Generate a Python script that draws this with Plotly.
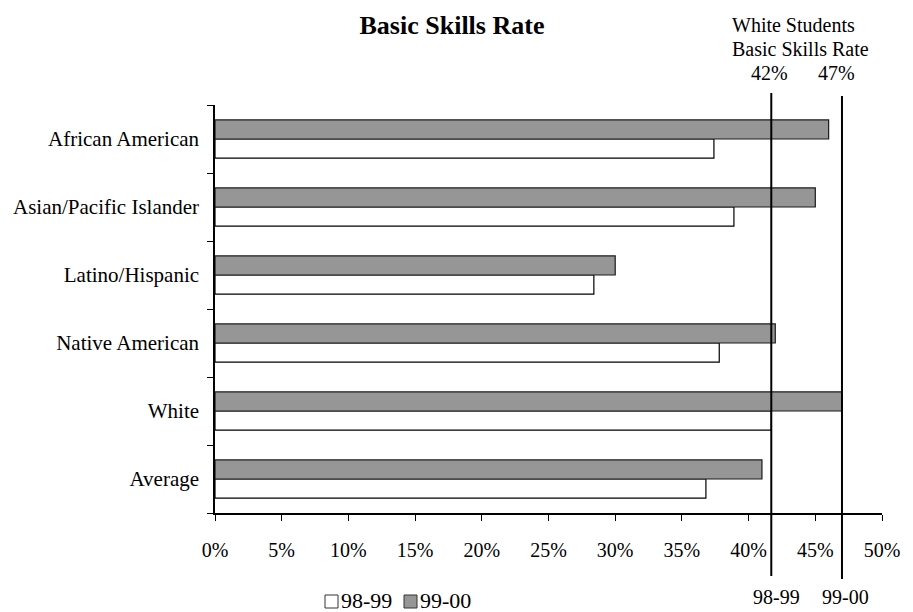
import plotly.graph_objects as go

# Basic skills rate by student group, two school years (percent)
categories = ["African American", "Asian/Pacific Islander", "Latino/Hispanic",
              "Native American", "White", "Average"]
series_names = ["98-99", "99-00"]
rate_9899 = [37.4, 38.9, 28.4, 37.8, 41.7, 36.8]
rate_9900 = [46.0, 45.0, 30.0, 42.0, 47.0, 41.0]
x_ticks = [0, 5, 10, 15, 20, 25, 30, 35, 40, 45, 50]
x_tick_labels = [f"{v}%" for v in x_ticks]

white_9899 = rate_9899[categories.index("White")]
white_9900 = rate_9900[categories.index("White")]

FONT = "Liberation Serif, Times New Roman, serif"
FILLS = ["white", "#969696"]
EDGES = ["black", "#1a1a1a"]

fig = go.Figure()
for name, vals, fill, edge in zip(series_names, [rate_9899, rate_9900], FILLS, EDGES):
    fig.add_bar(
        y=categories, x=vals, orientation="h", name=name,
        marker=dict(color=fill, line=dict(color=edge, width=1.2)),
    )

# Plot-area geometry (pixels) used to place the reference lines and labels
LEFT, RIGHT, TOP, BOTTOM = 215, 882, 105, 513
W, H = RIGHT - LEFT, BOTTOM - TOP


def px_x(px):
    return (px - LEFT) / W


def px_y(px):
    return (BOTTOM - px) / H


shapes = []
# Reference lines at the White students' rates
for val, y_top, y_bot in [(white_9899, 93, 576), (white_9900, 96, 579)]:
    shapes.append(dict(type="line", xref="x", yref="paper",
                       x0=val, x1=val, y0=px_y(y_bot), y1=px_y(y_top),
                       line=dict(color="black", width=2)))

annotations = [
    dict(text="White Students", xref="paper", x=px_x(730), xanchor="left",
         yref="paper", y=px_y(25), yanchor="middle"),
    dict(text="Basic Skills Rate", xref="paper", x=px_x(730), xanchor="left",
         yref="paper", y=px_y(49), yanchor="middle"),
    dict(text=f"{round(white_9899)}%", xref="x", x=white_9899, xshift=-2,
         yref="paper", y=px_y(73), yanchor="middle"),
    dict(text=f"{round(white_9900)}%", xref="x", x=white_9900, xshift=-5,
         yref="paper", y=px_y(73), yanchor="middle"),
    dict(text=series_names[0], xref="x", x=white_9899, xshift=5,
         yref="paper", y=px_y(597), yanchor="middle"),
    dict(text=series_names[1], xref="x", x=white_9900, xshift=4,
         yref="paper", y=px_y(597), yanchor="middle"),
]
for a in annotations:
    a["font"] = dict(family=FONT, size=20, color="black")

# Compact legend below the chart: swatch immediately followed by its label
for name, fill, sq_left in zip(series_names, FILLS, [325, 404]):
    shapes.append(dict(type="rect", xref="paper", yref="paper",
                       x0=px_x(sq_left), x1=px_x(sq_left + 13),
                       y0=px_y(608), y1=px_y(595),
                       fillcolor=fill, line=dict(color="#333333", width=1)))
    annotations.append(dict(text=name, xref="paper", x=px_x(sq_left + 14),
                            xanchor="left", yref="paper", y=px_y(600),
                            yanchor="middle",
                            font=dict(family=FONT, size=22, color="black")))

for a in annotations:
    a["showarrow"] = False

fig.update_layout(
    width=913, height=612,
    margin=dict(l=LEFT, r=913 - RIGHT, t=TOP, b=612 - BOTTOM),
    paper_bgcolor="white", plot_bgcolor="white",
    font=dict(family=FONT, size=20, color="black"),
    title=dict(text="<b>Basic Skills Rate</b>", x=452 / 913, xanchor="center",
               y=1 - 25 / 612, yanchor="middle",
               font=dict(family=FONT, size=26, color="black")),
    barmode="group", bargap=0.44, bargroupgap=0,
    showlegend=False,
    shapes=shapes, annotations=annotations,
)

fig.update_xaxes(
    range=[0, 50], tickvals=x_ticks, ticktext=x_tick_labels,
    showline=True, linecolor="black", linewidth=1.5,
    ticks="outside", ticklen=6, tickcolor="black", tickwidth=1,
    showgrid=False, zeroline=False, ticklabelstandoff=12,
    tickfont=dict(family=FONT, size=20, color="black"),
)
fig.update_yaxes(
    categoryorder="array", categoryarray=categories[::-1],
    showline=True, linecolor="black", linewidth=1.5,
    ticks="outside", ticklen=6, tickcolor="black", tickwidth=1,
    tickson="boundaries", showgrid=False, zeroline=False,
    ticklabelstandoff=10,
    tickfont=dict(family=FONT, size=21, color="black"),
)

fig.write_html("out.html")
